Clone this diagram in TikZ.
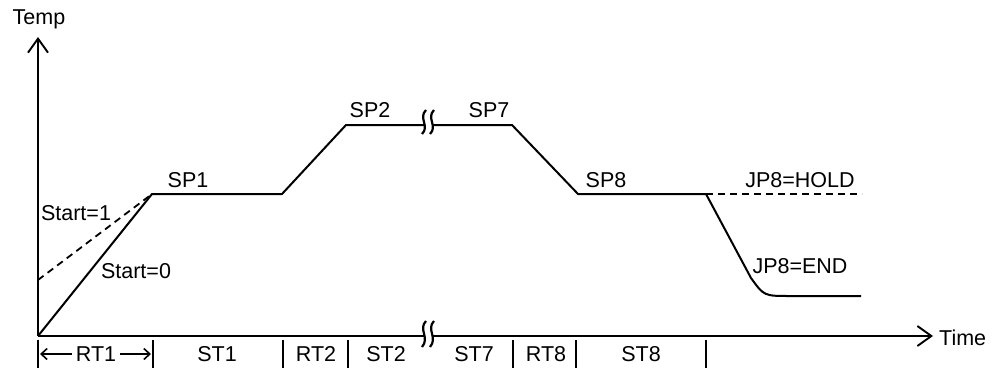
\documentclass[tikz,border=0pt]{standalone}
\usepackage{fontspec}
\setmainfont{Liberation Sans}
\usetikzlibrary{arrows.meta}
\begin{document}
\begin{tikzpicture}[x=1pt,y=-1pt,
  lbl/.style={font=\fontsize{21.5}{24}\selectfont, inner sep=0pt},
  curve/.style={line width=2pt, line join=miter},
  dsh/.style={line width=1.8pt, dash pattern=on 7pt off 5pt},
  axis/.style={line width=1.9pt, -{Straight Barb[length=14pt,width=20pt,line width=1.9pt]}},
  tick/.style={line width=1.9pt},
  brk/.style={line width=2.2pt}]
\useasboundingbox (0,0) rectangle (995,369);
% coordinates
\coordinate (O) at (38,336);
\coordinate (Ytop) at (38,37);
\coordinate (Xend) at (933,336);
\coordinate (S1) at (38,280);
\coordinate (A) at (152,194);
\coordinate (B) at (282,194);
\coordinate (C) at (346,125);
\coordinate (Cb) at (424,125);
\coordinate (Ca) at (433,125);
\coordinate (D) at (512,125);
\coordinate (E) at (578,194);
\coordinate (F) at (706,194);
\coordinate (G) at (751,278);
\coordinate (H) at (790,296);
\coordinate (I) at (861,296);
\coordinate (Hold) at (862,194);
\coordinate (Xb) at (424,336);
\coordinate (Xa) at (433,336);
% axes
\draw[axis] (O) -- (Ytop);
\draw[line width=1.9pt] (O) -- (Xb);
\draw[axis] (Xa) -- (Xend);
\node[lbl, anchor=west] (time) at (939,338) {Time};
\node[lbl] (temp) at (39,19) {Temp};
% break marks
\foreach \xx/\yy in {424/334, 432/334}{
  \draw[brk] (\xx+2,\yy-13) .. controls (\xx-6,\yy-5) and (\xx+6,\yy+4) .. (\xx-2,\yy+13);
}
\foreach \xx/\yy in {424/122, 432/122}{
  \draw[brk] (\xx+2,\yy-12) .. controls (\xx-6,\yy-4) and (\xx+6,\yy+4) .. (\xx-2,\yy+12);
}
% profile
\draw[dsh] (S1) -- (A);
\draw[curve] (O) -- (A) -- (B) -- (C) -- (Cb);
\draw[curve] (Ca) -- (D) -- (E) -- (F) -- (G) .. controls (764,296) .. (H) -- (I);
\draw[dsh] (F) -- (Hold);
% labels
\node[lbl] (sp1) at (188,180) {SP1};
\node[lbl] (sp2) at (370,110) {SP2};
\node[lbl] (sp7) at (489,110) {SP7};
\node[lbl] (sp8) at (606,180) {SP8};
\node[lbl] (hold) at (800,180) {JP8=HOLD};
\node[lbl] (end) at (800,266) {JP8=END};
\node[lbl] (st1l) at (76,213) {Start=1};
\node[lbl] (st0l) at (136,271) {Start=0};
% ticks
\foreach \n/\xx in {t0/38, t1/153, t2/283, t3/348, t4/513, t5/576, t6/706}{
  \coordinate (\n a) at (\xx,340);
  \coordinate (\n b) at (\xx,368);
  \draw[tick] (\n a) -- (\n b);
}
\node[lbl] (rt1) at (96,354) {RT1};
\coordinate (rt1l) at (40,354);
\coordinate (rt1r) at (151,354);
\draw[line width=1.6pt, -{Straight Barb[length=6pt,width=11pt,line width=1.6pt]}] (rt1.west) ++(-4,0) -- (rt1l);
\draw[line width=1.6pt, -{Straight Barb[length=6pt,width=11pt,line width=1.6pt]}] (rt1.east) ++(4,0) -- (rt1r);
\node[lbl] (st1) at (217,354) {ST1};
\node[lbl] (rt2) at (316,354) {RT2};
\node[lbl] (st2) at (386,354) {ST2};
\node[lbl] (st7) at (474,354) {ST7};
\node[lbl] (rt8) at (546,354) {RT8};
\node[lbl] (st8) at (641,354) {ST8};
\end{tikzpicture}
\end{document}
